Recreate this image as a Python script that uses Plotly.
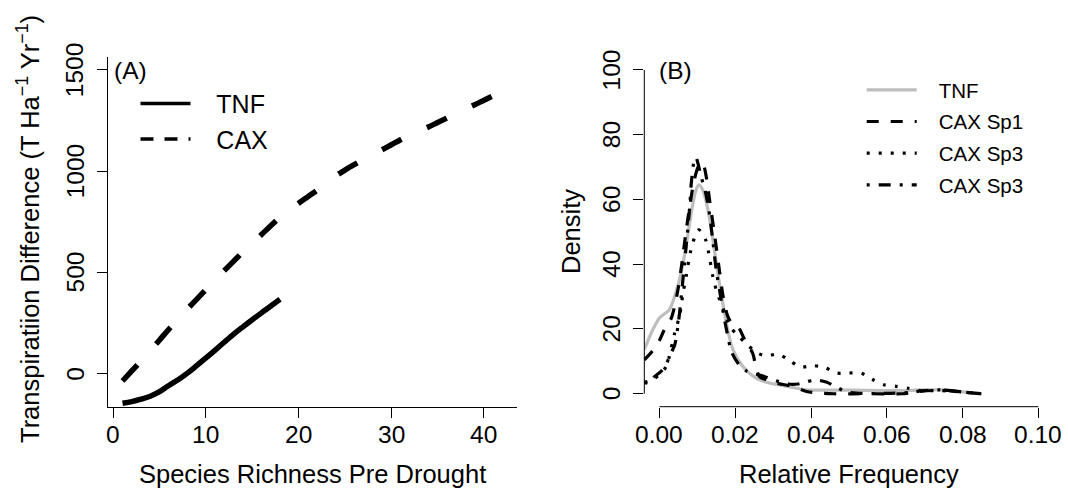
import plotly.graph_objects as go

W, H = 1068, 489
FONT = "Liberation Sans, Arial, Helvetica, sans-serif"
NB = "\u00a0"

# ---------------- Panel A data ----------------
tnf_richness = [1, 2, 3, 4, 5, 6, 7, 8, 9, 10, 11, 12, 13, 14, 15, 16, 17, 18]
tnf_transp = [-148, -140, -128, -113, -91, -60, -32, 1, 38, 76, 115, 155, 194,
              230, 265, 299, 333, 366]

cax_richness = list(range(1, 42))
cax_transp = [-38, 12, 62, 113, 165, 218, 268, 318, 366, 414, 462, 509, 555,
              600, 643, 686, 730, 772, 808, 841, 873, 905, 939, 975, 1005,
              1032, 1058, 1082, 1105, 1130, 1155, 1178, 1198, 1218, 1240,
              1262, 1285, 1307, 1328, 1350, 1372]

a_xticks = [0, 10, 20, 30, 40]
a_xticklabels = ["0", "10", "20", "30", "40"]
a_yticks = [0, 500, 1000, 1500]
a_yticklabels = ["0", "500", "1000", "1500"]

# ---------------- Panel B data ----------------
tnf_freq = [-0.004, -0.0022, 0.0, 0.0026, 0.004, 0.0057, 0.007, 0.0084, 0.0095,
            0.0104, 0.0114, 0.0128, 0.0141, 0.0154, 0.0167, 0.018, 0.0194,
            0.022, 0.0255, 0.029, 0.0335, 0.0388, 0.045, 0.051, 0.058, 0.065,
            0.07, 0.075, 0.08, 0.085]
tnf_dens = [13.6, 18.7, 23.4, 25.9, 30, 37.2, 45.5, 55.8, 62.4, 64.5, 63, 56.8,
            47.5, 37.2, 28, 19.8, 13.6, 8.4, 4.8, 3.3, 2.3, 1.2, 1.1, 1.1, 1.0,
            1.0, 1.2, 1.2, 0.6, 0.0]

sp1_freq = [-0.004, -0.002, 0.0, 0.0013, 0.003, 0.004, 0.005, 0.006, 0.007,
            0.008, 0.009, 0.010, 0.0108, 0.0116, 0.0125, 0.0132, 0.0145, 0.0156,
            0.0168, 0.018, 0.019, 0.0207, 0.0225, 0.0246, 0.0255, 0.0264,
            0.0282, 0.0308, 0.035, 0.0388, 0.0423, 0.046, 0.055, 0.064, 0.068,
            0.072, 0.075, 0.079, 0.083, 0.085]
sp1_dens = [10.5, 13, 16.5, 19.8, 23, 27, 33, 41, 50, 58, 65, 69.5, 71.5, 70.7,
            66, 60, 49.5, 40, 30, 24, 22, 20.8, 16.7, 12.5, 8, 5.3, 4.3, 3.3,
            2.3, 0.7, 0.2, 0, 0, 0, 0.6, 1.0, 1.1, 0.6, 0.2, 0]

sp3a_freq = [-0.004, -0.002, 0.0, 0.0018, 0.0026, 0.004, 0.0053, 0.0062, 0.007,
             0.0081, 0.0092, 0.0104, 0.0113, 0.0122, 0.013, 0.0141, 0.015,
             0.0159, 0.0172, 0.0185, 0.0207, 0.0233, 0.026, 0.0282, 0.0313,
             0.0343, 0.0372, 0.0403, 0.0436, 0.0467, 0.0498, 0.0531, 0.0561,
             0.0592, 0.0624, 0.0656, 0.069, 0.074, 0.079, 0.085]
sp3a_dens = [3.5, 4.2, 5.9, 8.4, 11.5, 18.7, 24, 31, 36, 43.4, 48, 50.6, 49.5,
             47.5, 43.4, 36.2, 32, 29, 25, 20.8, 18, 15, 12.5, 11.7, 12.2, 10.3,
             8.2, 8.7, 8.1, 6.4, 6.4, 6.4, 4.5, 2.8, 2.3, 1.7, 1.0, 1.0, 0.6, 0]

sp3b_freq = [-0.004, -0.0026, -0.0013, 0.0004, 0.0018, 0.0026, 0.004, 0.005,
             0.006, 0.007, 0.008, 0.0084, 0.0092, 0.0096, 0.0102, 0.011, 0.012,
             0.013, 0.014, 0.015, 0.016, 0.017, 0.018, 0.019, 0.021, 0.023,
             0.0255, 0.0273, 0.03, 0.034, 0.0365, 0.0383, 0.041, 0.044, 0.047,
             0.049, 0.052, 0.06, 0.066, 0.07, 0.074, 0.078, 0.082, 0.085]
sp3b_dens = [3.5, 3.3, 5.3, 6.9, 9, 11.5, 15, 22, 33, 45, 58, 65, 72.2, 73, 71,
             67, 63, 57, 48, 38, 31, 24, 18, 13, 9, 7, 6, 5.5, 4.3, 3, 3, 3.5,
             4.3, 3.6, 1.9, 0.7, 0.2, 0.1, 0.4, 1.0, 1.2, 0.8, 0.3, 0]

b_xticks = [0.0, 0.02, 0.04, 0.06, 0.08, 0.10]
b_xticklabels = ["0.00", "0.02", "0.04", "0.06", "0.08", "0.10"]
b_yticks = [0, 20, 40, 60, 80, 100]
b_yticklabels = ["0", "20", "40", "60", "80", "100"]

TICK_SIZE = 24.5
TITLE_SIZE = 25.5
LEGA_SIZE = 25
LEGB_SIZE = 20.5


def px_x(p):
    return p / W


def px_y(p):
    return 1 - p / H


def txt(size):
    return dict(family=FONT, size=size, color="black")


fig = go.Figure()

# Panel A curves
fig.add_trace(go.Scatter(x=tnf_richness, y=tnf_transp, mode="lines",
                         line=dict(color="black", width=5.5, shape="spline"),
                         xaxis="x", yaxis="y", showlegend=False))
fig.add_trace(go.Scatter(x=cax_richness, y=cax_transp, mode="lines",
                         line=dict(color="black", width=5.5, dash="22px,28px",
                                   shape="spline"),
                         xaxis="x", yaxis="y", showlegend=False))
# Panel A legend entries
fig.add_trace(go.Scatter(x=[None], y=[None], mode="lines", name=NB * 3 + "TNF",
                         line=dict(color="black", width=3.5),
                         xaxis="x", yaxis="y", legend="legend"))
fig.add_trace(go.Scatter(x=[None], y=[None], mode="lines", name=NB * 3 + "CAX",
                         line=dict(color="black", width=3.5, dash="13px,11px"),
                         xaxis="x", yaxis="y", legend="legend"))

# Panel B curves
b_series = [
    (tnf_freq, tnf_dens, "TNF", "#bebebe", "solid"),
    (sp1_freq, sp1_dens, "CAX Sp1", "black", "12px,12px"),
    (sp3a_freq, sp3a_dens, "CAX Sp3", "black", "3px,9px"),
    (sp3b_freq, sp3b_dens, "CAX Sp3", "black", "3px,9px,12px,9px"),
]
for i, (fx, fy, nm, col, dsh) in enumerate(b_series):
    fig.add_trace(go.Scatter(x=fx, y=fy, mode="lines", name=NB * 3 + nm,
                             line=dict(color=col, width=3.2, dash=dsh,
                                       shape="spline", smoothing=0.8),
                             xaxis="x2", yaxis="y2", legend="legend2",
                             legendgroup="b%d" % i))

axis_common = dict(showgrid=False, zeroline=False, ticks="outside", ticklen=10,
                   tickwidth=1, tickcolor="black", showticklabels=False)

annotations = []
# tick labels placed through the axes' own scales
for v, t in zip(a_xticks, a_xticklabels):
    annotations.append(dict(text=t, xref="x", yref="paper", x=v, y=px_y(434),
                            xanchor="center", yanchor="middle",
                            showarrow=False, font=txt(TICK_SIZE)))
for v, t in zip(a_yticks, a_yticklabels):
    annotations.append(dict(text=t, xref="paper", yref="y", x=px_x(75.3), y=v,
                            xanchor="center", yanchor="middle", textangle=-90,
                            showarrow=False, font=txt(TICK_SIZE)))
for v, t in zip(b_xticks, b_xticklabels):
    annotations.append(dict(text=t, xref="x2", yref="paper", x=v, y=px_y(434),
                            xanchor="center", yanchor="middle",
                            showarrow=False, font=txt(TICK_SIZE)))
for v, t in zip(b_yticks, b_yticklabels):
    annotations.append(dict(text=t, xref="paper", yref="y2", x=px_x(611.5), y=v,
                            xanchor="center", yanchor="middle", textangle=-90,
                            showarrow=False, font=txt(TICK_SIZE)))

annotations += [
    dict(text="Transpiratiion Difference (T Ha<sup>\u22121</sup> Yr<sup>\u22121</sup>)",
         xref="paper", yref="paper", x=px_x(28), y=px_y(229),
         xanchor="center", yanchor="middle", textangle=-90, showarrow=False,
         font=txt(TITLE_SIZE)),
    dict(text="Species Richness Pre Drought", xref="paper", yref="paper",
         x=px_x(312.5), y=px_y(474), xanchor="center", yanchor="middle",
         showarrow=False, font=txt(TITLE_SIZE)),
    dict(text="Density", xref="paper", yref="paper", x=px_x(571),
         y=px_y(232), xanchor="center", yanchor="middle", textangle=-90,
         showarrow=False, font=txt(TITLE_SIZE)),
    dict(text="Relative Frequency", xref="paper", yref="paper",
         x=px_x(849), y=px_y(473.5), xanchor="center", yanchor="middle",
         showarrow=False, font=txt(TITLE_SIZE)),
    dict(text="(A)", xref="paper", yref="paper", x=px_x(112.3), y=px_y(70),
         xanchor="left", yanchor="middle", showarrow=False,
         font=txt(TICK_SIZE)),
    dict(text="(B)", xref="paper", yref="paper", x=px_x(657.3), y=px_y(71),
         xanchor="left", yanchor="middle", showarrow=False,
         font=txt(TICK_SIZE)),
]

fig.update_layout(
    width=W, height=H, autosize=False,
    margin=dict(l=0, r=0, t=0, b=0),
    paper_bgcolor="white", plot_bgcolor="white",
    font=dict(family=FONT, size=24, color="black"),
    xaxis=dict(domain=[px_x(107.7), px_x(517.3)], range=[-0.6, 43.6],
               tickmode="array", tickvals=a_xticks, anchor="y",
               showline=True, linecolor="black", linewidth=1, **axis_common),
    yaxis=dict(domain=[px_y(406.7), px_y(57)], range=[-165, 1564],
               tickmode="array", tickvals=a_yticks, anchor="x",
               showline=True, linecolor="black", linewidth=1, **axis_common),
    xaxis2=dict(domain=[px_x(644.3), px_x(1053.6)], range=[-0.004, 0.104],
                tickmode="array", tickvals=b_xticks, anchor="y2",
                showline=False, **axis_common),
    yaxis2=dict(domain=[px_y(406.7), px_y(57)], range=[-4, 104],
                tickmode="array", tickvals=b_yticks, anchor="x2",
                showline=False, **axis_common),
    legend=dict(x=px_x(135.5), y=px_y(80.7), xanchor="left", yanchor="top",
                bgcolor="rgba(0,0,0,0)", itemwidth=50,
                font=txt(LEGA_SIZE)),
    legend2=dict(x=px_x(861.7), y=px_y(70), xanchor="left", yanchor="top",
                 bgcolor="rgba(0,0,0,0)", itemwidth=50, tracegroupgap=2,
                 font=txt(LEGB_SIZE)),
    shapes=[
        dict(type="line", xref="x2", yref="y2 domain", x0=b_xticks[0],
             x1=b_xticks[-1], y0=0, y1=0, line=dict(color="black", width=1)),
        dict(type="line", xref="x2 domain", yref="y2", x0=0, x1=0,
             y0=b_yticks[0], y1=b_yticks[-1], line=dict(color="black", width=1)),
    ],
    annotations=annotations,
)

fig.write_html("out.html")
